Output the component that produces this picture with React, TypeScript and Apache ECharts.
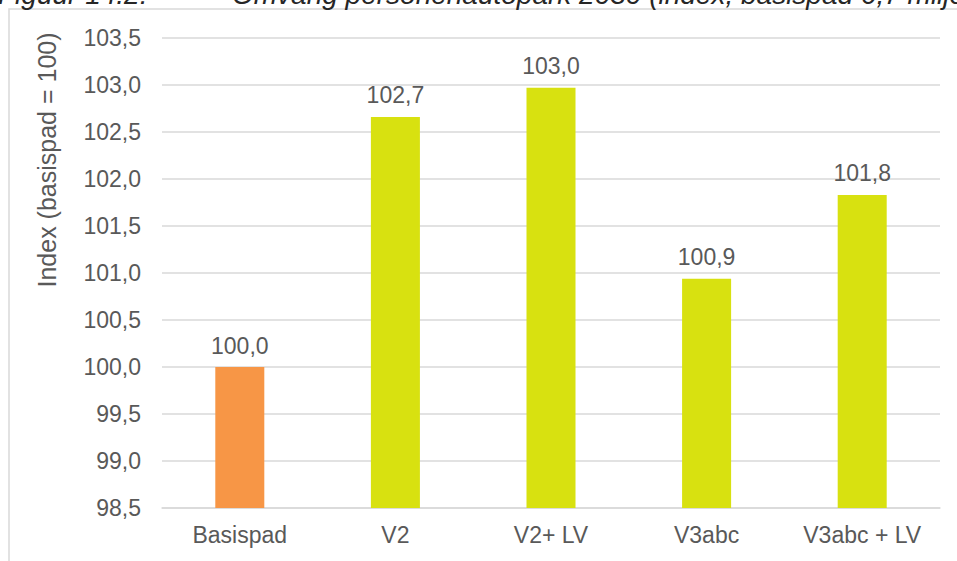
import React, { useEffect, useRef } from "react";
import * as echarts from "echarts";

const categories: string[] = ["Basispad", "V2", "V2+ LV", "V3abc", "V3abc + LV"];
const values: number[] = [100.0, 102.66, 102.97, 100.94, 101.83];
const barColors: string[] = ["#F79646", "#D8E110", "#D8E110", "#D8E110", "#D8E110"];
const yMin = 98.5;
const yMax = 103.5;
const yStep = 0.5;
const yAxisTitle = "Index (basispad = 100)";
const figureLabel = "Figuur 14.2:";
const figureTitle = "Omvang personenautopark 2030 (index, basispad 6,7 miljoen)";

const FONT = "'Liberation Sans', Arial, sans-serif";
const TEXT = "#595959";
const GRID = "#d9d9d9";

const fmt = (v: number) => v.toFixed(1).replace(".", ",");

export default function App() {
  const ref = useRef<HTMLDivElement>(null);
  useEffect(() => {
    if (!ref.current) return;
    const chart = echarts.init(ref.current, undefined, { renderer: "svg" });
    chart.setOption({
      animation: false,
      backgroundColor: "#ffffff",
      textStyle: { fontFamily: FONT },
      grid: { left: 162, right: 17, top: 38, bottom: 53, containLabel: false },
      graphic: [
        {
          type: "rect",
          shape: { x: 9, y: 9, width: 1000, height: 600 },
          style: { fill: "none", stroke: GRID, lineWidth: 1.5 },
          silent: true,
        },
        {
          type: "text",
          x: -2,
          y: 8,
          style: {
            text: figureLabel,
            fontSize: 28,
            fontStyle: "italic",
            fontFamily: FONT,
            fill: "#262626",
            align: "left",
            verticalAlign: "bottom",
          },
        },
        {
          type: "text",
          x: 232,
          y: 8,
          style: {
            text: figureTitle,
            fontSize: 28,
            fontStyle: "italic",
            fontFamily: FONT,
            fill: "#262626",
            align: "left",
            verticalAlign: "bottom",
          },
        },
        {
          type: "text",
          x: 47,
          y: 160,
          rotation: Math.PI / 2,
          style: {
            text: yAxisTitle,
            fontSize: 25,
            fontFamily: FONT,
            fill: TEXT,
            align: "center",
            verticalAlign: "middle",
          },
        },
      ],
      xAxis: {
        type: "category",
        data: categories,
        axisLine: { show: true, lineStyle: { color: GRID, width: 1.5 } },
        axisTick: { show: false },
        axisLabel: { color: TEXT, fontSize: 23, fontFamily: FONT, margin: 15 },
        splitLine: { show: false },
      },
      yAxis: {
        type: "value",
        min: yMin,
        max: yMax,
        interval: yStep,
        axisLine: { show: false },
        axisTick: { show: false },
        axisLabel: {
          color: TEXT,
          fontSize: 23,
          fontFamily: FONT,
          margin: 21,
          formatter: (v: number) => fmt(v),
        },
        splitLine: { show: true, lineStyle: { color: GRID, width: 1.5 } },
      },
      series: [
        {
          type: "bar",
          barWidth: "31.5%",
          data: values.map((v, i) => ({ value: v, itemStyle: { color: barColors[i] } })),
          label: {
            show: true,
            position: "top",
            distance: 10,
            color: TEXT,
            fontSize: 23,
            fontFamily: FONT,
            formatter: (p: any) => fmt(p.value),
          },
        },
      ],
    });
    return () => chart.dispose();
  }, []);
  return <div ref={ref} style={{ width: 957, height: 561, position: "absolute", left: 0, top: 0 }} />;
}
